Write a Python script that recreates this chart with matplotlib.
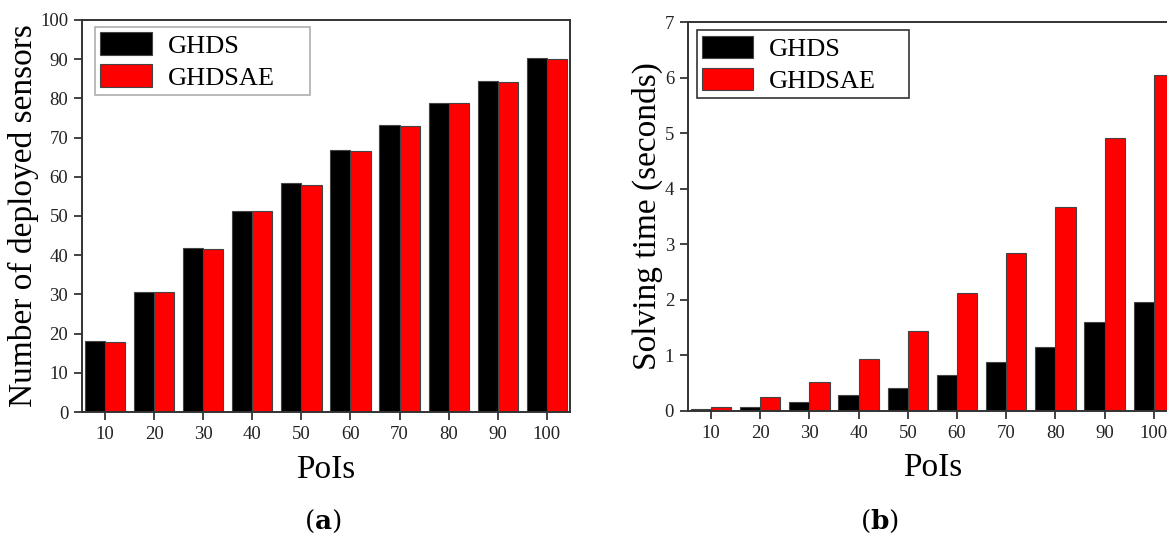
import matplotlib
matplotlib.use('Agg')
import matplotlib.pyplot as plt
import numpy as np

pois = [10, 20, 30, 40, 50, 60, 70, 80, 90, 100]
sensors_ghds = [18.0, 30.6, 41.8, 51.3, 58.3, 66.8, 73.2, 78.9, 84.5, 90.3]
sensors_ghdsae = [17.9, 30.5, 41.5, 51.2, 58.0, 66.6, 72.9, 78.7, 84.3, 90.0]
time_ghds = [0.03, 0.07, 0.16, 0.28, 0.42, 0.65, 0.88, 1.16, 1.60, 1.96]
time_ghdsae = [0.07, 0.25, 0.53, 0.93, 1.44, 2.12, 2.84, 3.67, 4.92, 6.05]

plt.rcParams['font.family'] = ['Liberation Serif', 'DejaVu Serif']
plt.rcParams['mathtext.fontset'] = 'dejavuserif'

fig = plt.figure(figsize=(11.67, 5.4), dpi=100)
ax_a = fig.add_axes([0.0703, 0.237, 0.418, 0.726])
ax_b = fig.add_axes([0.5895, 0.239, 0.419, 0.72])

w = 4.1
x = np.array(pois, dtype=float)
spine_col = '#333333'


def style(ax, ylabel, yticks, legend_edge, leg_box):
    ax.set_xlim(5.3, 104.7)
    ax.set_xticks(pois)
    ax.set_yticks(yticks)
    ax.tick_params(axis='both', direction='out', length=6, width=1.2,
                   labelsize=13.5, colors='#222222', pad=4)
    ax.tick_params(top=False, right=False)
    for s in ax.spines.values():
        s.set_color(spine_col)
        s.set_linewidth(1.4)
    ax.set_xlabel('PoIs', fontsize=24, labelpad=8)
    ax.set_ylabel(ylabel, fontsize=24, labelpad=1)
    leg = ax.legend(loc='upper left', bbox_to_anchor=leg_box, mode='expand',
                    fontsize=19, frameon=True, fancybox=False,
                    handlelength=1.95, handleheight=0.95, handletextpad=0.6,
                    borderpad=0.2, labelspacing=0.25, borderaxespad=0.0)
    leg.get_frame().set_edgecolor(legend_edge)
    leg.get_frame().set_linewidth(1.2)


ax_a.bar(x - w / 2, sensors_ghds, w, color='black', edgecolor='#444444',
         linewidth=0.8, label='GHDS')
ax_a.bar(x + w / 2, sensors_ghdsae, w, color='#ff0000', edgecolor='#444444',
         linewidth=0.8, label='GHDSAE')
ax_a.set_ylim(0, 100)
style(ax_a, 'Number of deployed sensors', range(0, 101, 10), '#999999',
      (0.027, 0.809, 0.44, 0.173))

ax_b.bar(x - w / 2, time_ghds, w, color='black', edgecolor='#444444',
         linewidth=0.8, label='GHDS')
ax_b.bar(x + w / 2, time_ghdsae, w, color='#ff0000', edgecolor='#444444',
         linewidth=0.8, label='GHDSAE')
ax_b.set_ylim(0, 7)
style(ax_b, 'Solving time (seconds)', range(0, 8), '#000000',
      (0.018, 0.807, 0.434, 0.172))

fig.text(0.277, 0.035, r'($\mathbf{a}$)', fontsize=19, ha='center', va='center',
         family='DejaVu Serif')
fig.text(0.754, 0.035, r'($\mathbf{b}$)', fontsize=19, ha='center', va='center',
         family='DejaVu Serif')

fig.savefig('out.png', dpi=100)
